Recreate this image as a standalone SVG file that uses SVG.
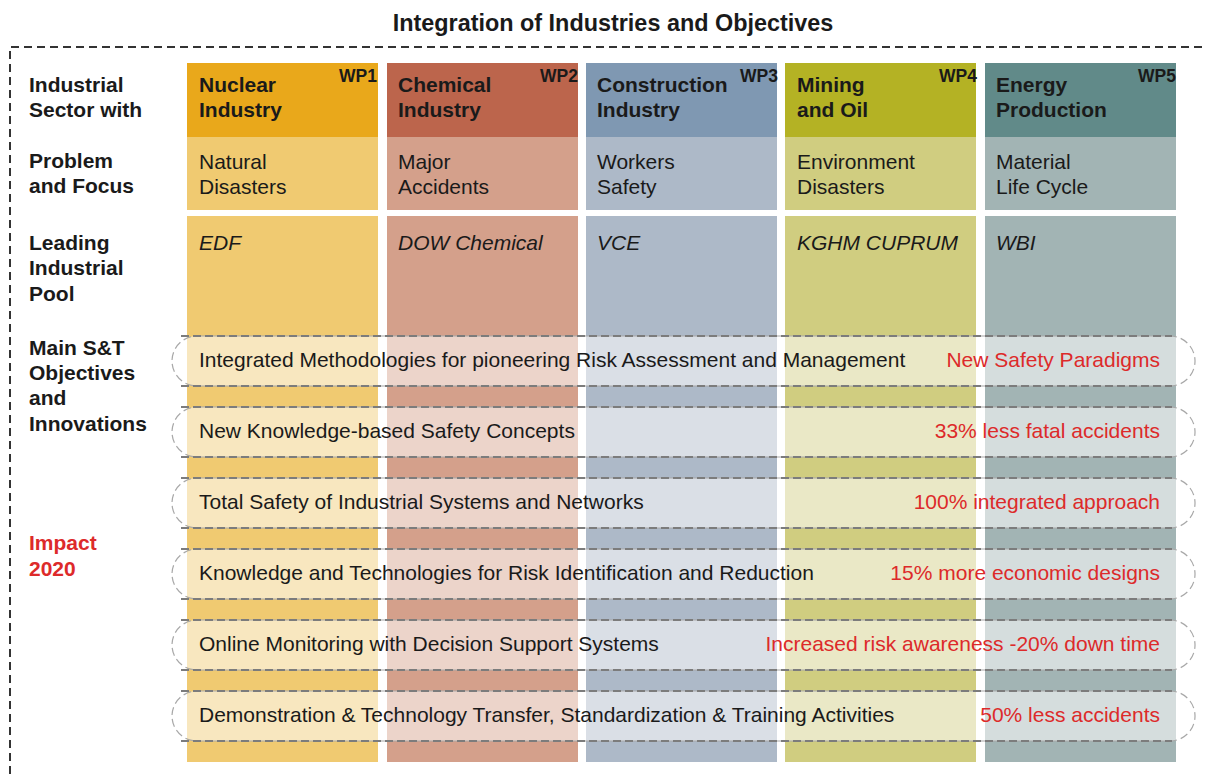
<svg xmlns="http://www.w3.org/2000/svg" width="1206" height="774" viewBox="0 0 1206 774">
  <style>
    text { font-family: "Liberation Sans", Arial, sans-serif; fill: #1a1a1a; }
    .title { font-size: 23.4px; font-weight: bold; }
    .lbl { font-size: 21px; font-weight: bold; }
    .red { fill: #dd2a2a; }
    .hd { font-size: 21px; font-weight: bold; }
    .wp { font-size: 17.5px; font-weight: bold; text-anchor: end; }
    .tx { font-size: 21px; }
    .it { font-size: 21px; font-style: italic; }
    .pill { fill: #ffffff; fill-opacity: 0.55; stroke: #a8a8a8; stroke-width: 1.2; stroke-dasharray: 8 4; }
    .edge { stroke: #7c7c7c; stroke-width: 2; stroke-dasharray: 8 4; fill: none; }
    .obj { font-size: 21px; }
    .imp { font-size: 21px; fill: #dd2a2a; text-anchor: end; }
  </style>

  <text class="title" x="613" y="31" text-anchor="middle">Integration of Industries and Objectives</text>

  <!-- outer dashed frame -->
  <path d="M10 774 V47 H1206" fill="none" stroke="#333" stroke-width="2" stroke-dasharray="8 5"/>

  <!-- row labels -->
  <g id="row-labels">
    <text class="lbl" x="29" y="92">Industrial</text>
    <text class="lbl" x="29" y="117">Sector with</text>
    <text class="lbl" x="29" y="168">Problem</text>
    <text class="lbl" x="29" y="193">and Focus</text>
    <text class="lbl" x="29" y="250">Leading</text>
    <text class="lbl" x="29" y="275">Industrial</text>
    <text class="lbl" x="29" y="301">Pool</text>
    <text class="lbl" x="29" y="355">Main S&amp;T</text>
    <text class="lbl" x="29" y="380">Objectives</text>
    <text class="lbl" x="29" y="405">and</text>
    <text class="lbl" x="29" y="431">Innovations</text>
    <text class="lbl red" x="29" y="550">Impact</text>
    <text class="lbl red" x="29" y="576">2020</text>
  </g>

  <!-- work package columns -->
  <g id="wp1">
    <rect x="187" y="63" width="191" height="74" fill="#e9a81b"/>
    <rect x="187" y="137" width="191" height="73" fill="#f0ca71"/>
    <rect x="187" y="216" width="191" height="546" fill="#f0ca71"/>
    <text class="hd" x="199" y="92">Nuclear</text>
    <text class="hd" x="199" y="117">Industry</text>
    <text class="wp" x="377" y="82">WP1</text>
    <text class="tx" x="199" y="169">Natural</text>
    <text class="tx" x="199" y="194">Disasters</text>
    <text class="it" x="199" y="250">EDF</text>
  </g>
  <g id="wp2">
    <rect x="387" y="63" width="191" height="74" fill="#bc654c"/>
    <rect x="387" y="137" width="191" height="73" fill="#d4a08b"/>
    <rect x="387" y="216" width="191" height="546" fill="#d4a08b"/>
    <text class="hd" x="398" y="92">Chemical</text>
    <text class="hd" x="398" y="117">Industry</text>
    <text class="wp" x="578" y="82">WP2</text>
    <text class="tx" x="398" y="169">Major</text>
    <text class="tx" x="398" y="194">Accidents</text>
    <text class="it" x="398" y="250">DOW Chemical</text>
  </g>
  <g id="wp3">
    <rect x="586" y="63" width="191" height="74" fill="#7f98b2"/>
    <rect x="586" y="137" width="191" height="73" fill="#adb9c8"/>
    <rect x="586" y="216" width="191" height="546" fill="#adb9c8"/>
    <text class="hd" x="597" y="92">Construction</text>
    <text class="hd" x="597" y="117">Industry</text>
    <text class="wp" x="778" y="82">WP3</text>
    <text class="tx" x="597" y="169">Workers</text>
    <text class="tx" x="597" y="194">Safety</text>
    <text class="it" x="597" y="250">VCE</text>
  </g>
  <g id="wp4">
    <rect x="785" y="63" width="191" height="74" fill="#b4b224"/>
    <rect x="785" y="137" width="191" height="73" fill="#d0cd80"/>
    <rect x="785" y="216" width="191" height="546" fill="#d0cd80"/>
    <text class="hd" x="797" y="92">Mining</text>
    <text class="hd" x="797" y="117">and Oil</text>
    <text class="wp" x="977" y="82">WP4</text>
    <text class="tx" x="797" y="169">Environment</text>
    <text class="tx" x="797" y="194">Disasters</text>
    <text class="it" x="797" y="250">KGHM CUPRUM</text>
  </g>
  <g id="wp5">
    <rect x="985" y="63" width="191" height="74" fill="#618a89"/>
    <rect x="985" y="137" width="191" height="73" fill="#a2b4b4"/>
    <rect x="985" y="216" width="191" height="546" fill="#a2b4b4"/>
    <text class="hd" x="996" y="92">Energy</text>
    <text class="hd" x="996" y="117">Production</text>
    <text class="wp" x="1176" y="82">WP5</text>
    <text class="tx" x="996" y="169">Material</text>
    <text class="tx" x="996" y="194">Life Cycle</text>
    <text class="it" x="996" y="250">WBI</text>
  </g>

  <!-- objective bands spanning all work packages -->
  <g id="obj1">
    <rect class="pill" x="172" y="336" width="1023" height="50" rx="25"/>
    <path class="edge" d="M181 336 H1172 M181 386 H1172"/>
    <text class="obj" x="199" y="367">Integrated Methodologies for pioneering Risk Assessment and Management</text>
    <text class="imp" x="1160" y="367">New Safety Paradigms</text>
  </g>
  <g id="obj2">
    <rect class="pill" x="172" y="407" width="1023" height="50" rx="25"/>
    <path class="edge" d="M181 407 H1172 M181 457 H1172"/>
    <text class="obj" x="199" y="438">New Knowledge-based Safety Concepts</text>
    <text class="imp" x="1160" y="438">33% less fatal accidents</text>
  </g>
  <g id="obj3">
    <rect class="pill" x="172" y="478" width="1023" height="50" rx="25"/>
    <path class="edge" d="M181 478 H1172 M181 528 H1172"/>
    <text class="obj" x="199" y="509">Total Safety of Industrial Systems and Networks</text>
    <text class="imp" x="1160" y="509">100% integrated approach</text>
  </g>
  <g id="obj4">
    <rect class="pill" x="172" y="549" width="1023" height="50" rx="25"/>
    <path class="edge" d="M181 549 H1172 M181 599 H1172"/>
    <text class="obj" x="199" y="580">Knowledge and Technologies for Risk Identification and Reduction</text>
    <text class="imp" x="1160" y="580">15% more economic designs</text>
  </g>
  <g id="obj5">
    <rect class="pill" x="172" y="620" width="1023" height="50" rx="25"/>
    <path class="edge" d="M181 620 H1172 M181 670 H1172"/>
    <text class="obj" x="199" y="651">Online Monitoring with Decision Support Systems</text>
    <text class="imp" x="1160" y="651">Increased risk awareness -20% down time</text>
  </g>
  <g id="obj6">
    <rect class="pill" x="172" y="691" width="1023" height="50" rx="25"/>
    <path class="edge" d="M181 691 H1172 M181 741 H1172"/>
    <text class="obj" x="199" y="722">Demonstration &amp; Technology Transfer, Standardization &amp; Training Activities</text>
    <text class="imp" x="1160" y="722">50% less accidents</text>
  </g>
</svg>
